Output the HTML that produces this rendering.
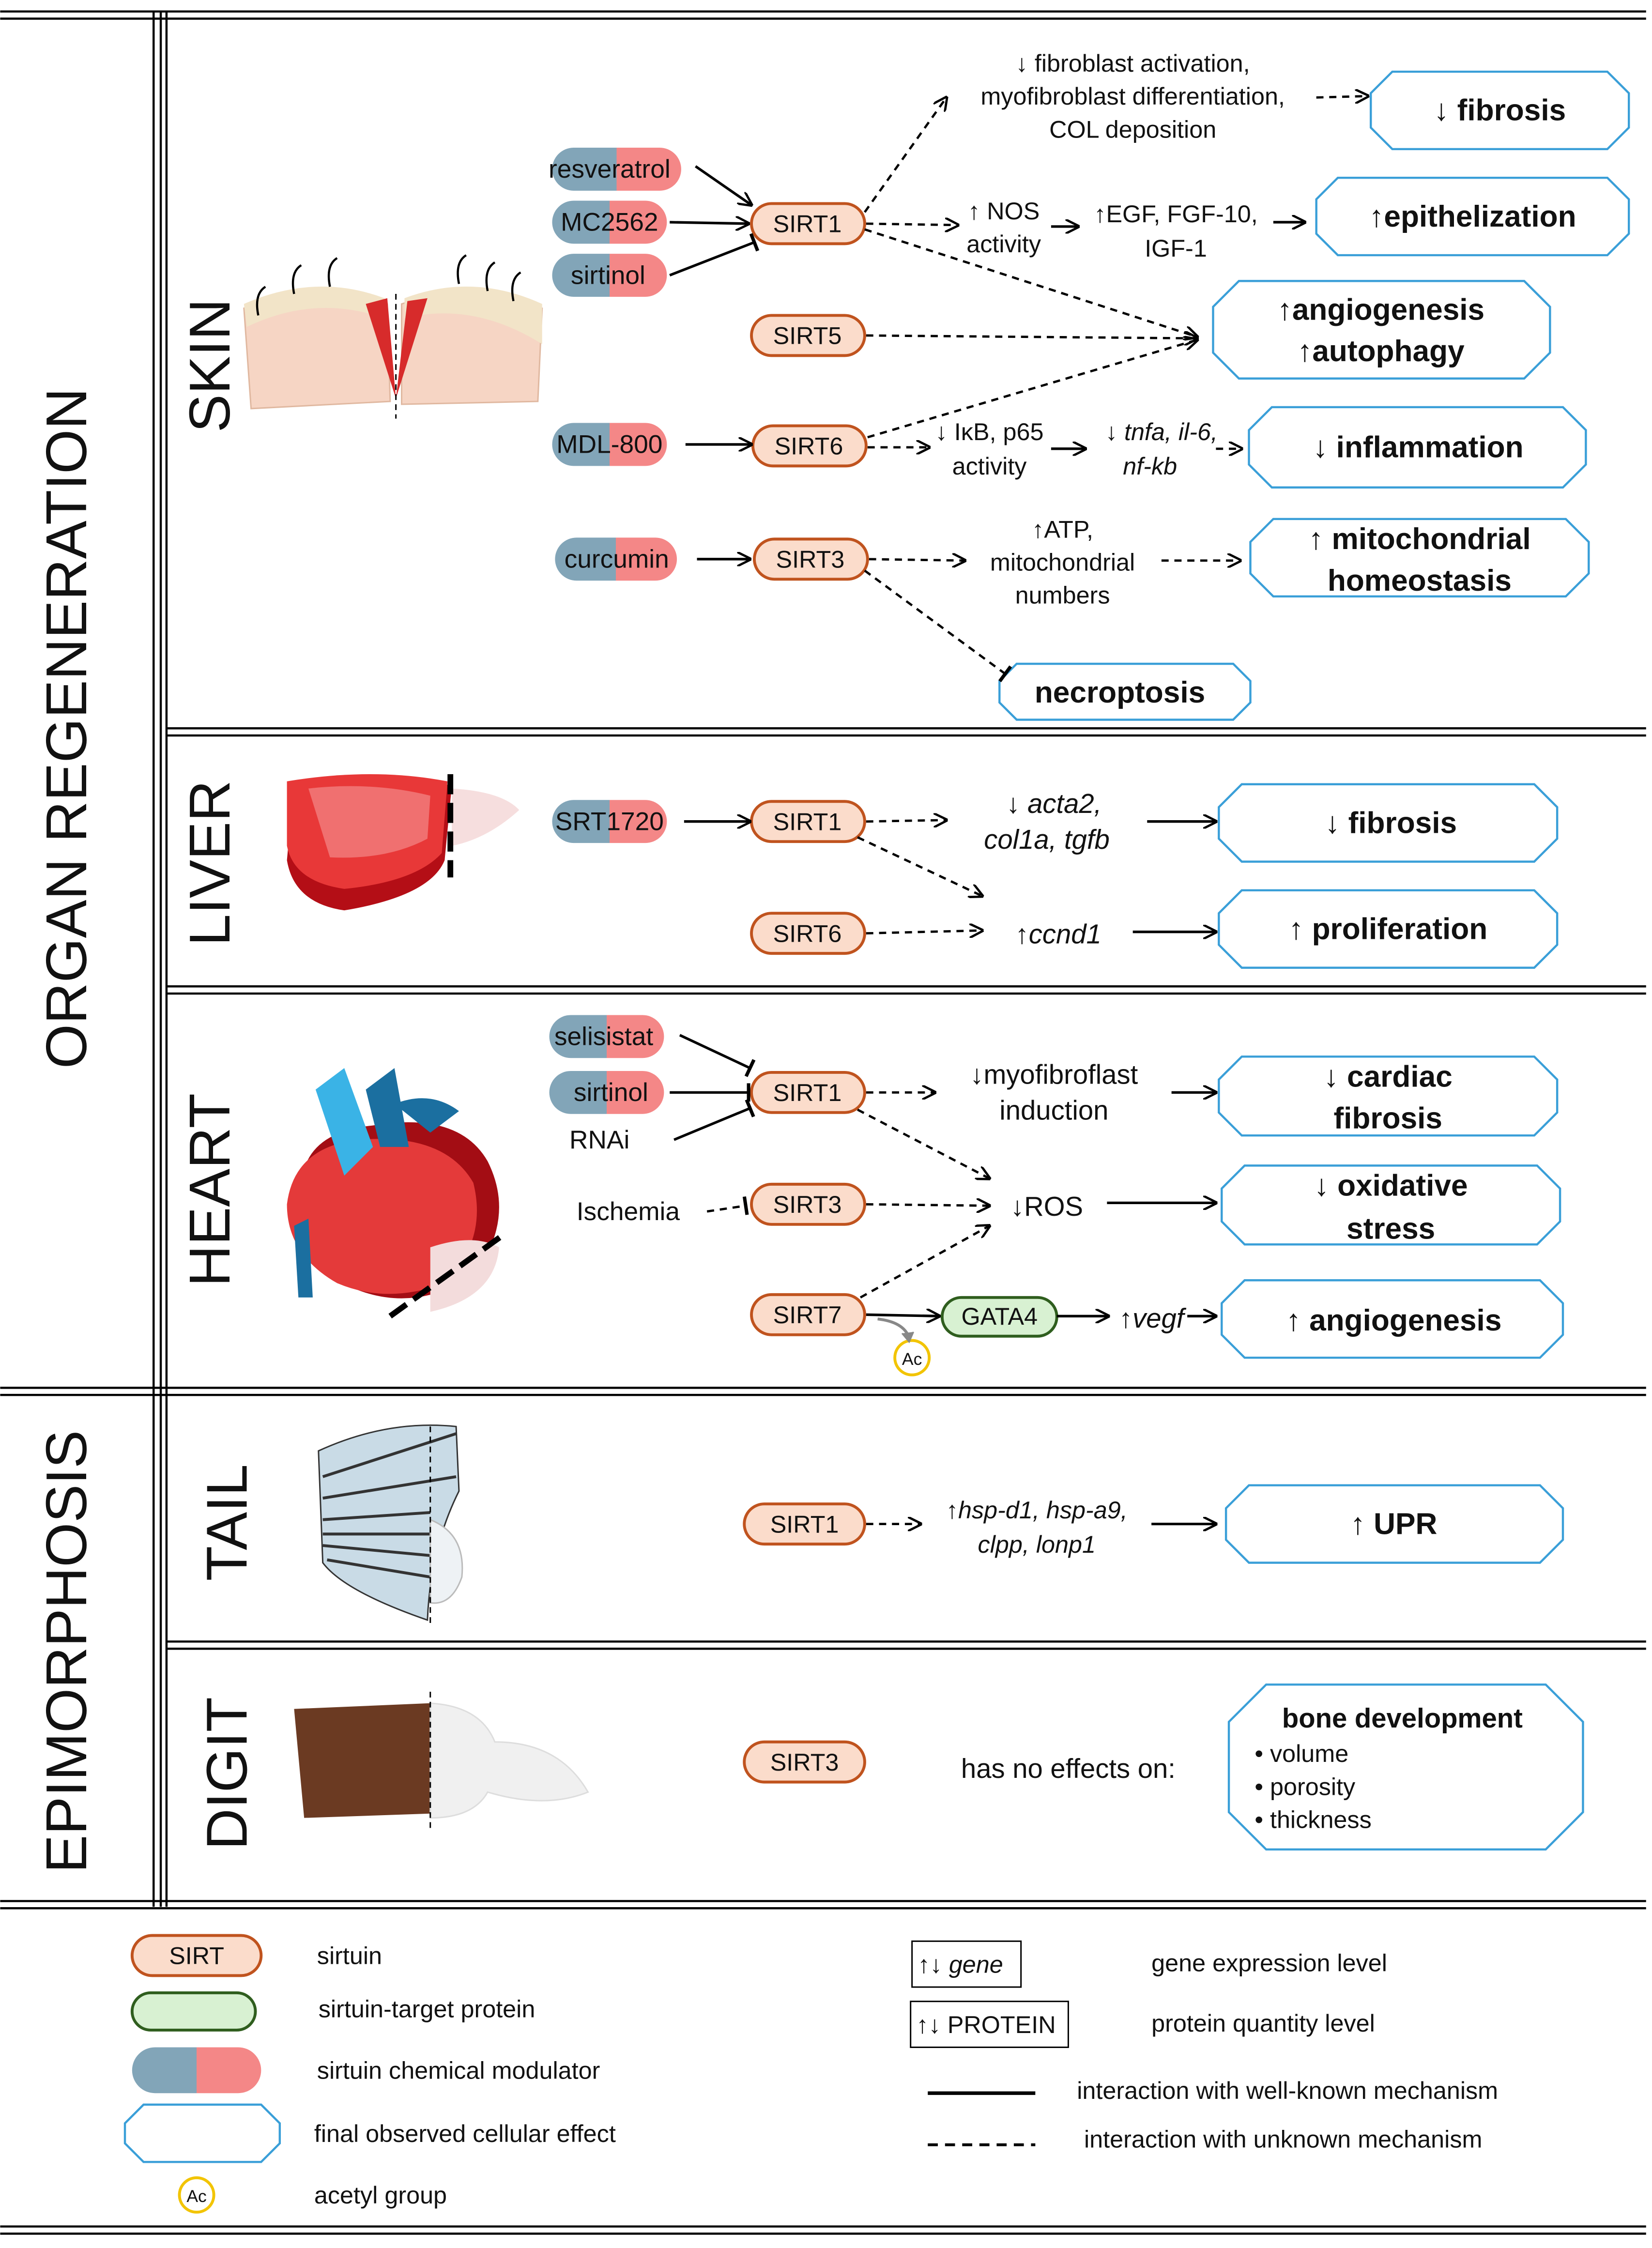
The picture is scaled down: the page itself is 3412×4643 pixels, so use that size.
<!DOCTYPE html>
<html><head><meta charset="utf-8"><style>
html,body{margin:0;padding:0;background:#fff}
svg{display:block}
text{font-family:"Liberation Sans","DejaVu Sans",sans-serif;fill:#111}
.t{font-size:17px;text-anchor:middle}
.i{font-style:italic}
.e{font-size:21px;font-weight:bold;text-anchor:middle}
.s{fill:#fbdccb;stroke:#c0531e;stroke-width:2}
.ef{fill:#fff;stroke:#3a9fd8;stroke-width:1.5}
.a{stroke:#000;stroke-width:1.8;fill:none}
.d{stroke:#000;stroke-width:1.6;fill:none;stroke-dasharray:5,4}
.lbl{font-size:40px;text-anchor:middle}
</style></head><body>
<svg width="3412" height="4643" viewBox="0 0 1152 1568" xmlns="http://www.w3.org/2000/svg">
<defs>
<marker id="ar" viewBox="0 0 10 10" refX="9" refY="5" markerWidth="10" markerHeight="10" markerUnits="userSpaceOnUse" orient="auto"><path d="M0,0 L10,5 L0,10" fill="none" stroke="#000" stroke-width="1.6"/></marker>
<marker id="tb" viewBox="0 0 10 16" refX="8" refY="8" markerWidth="8" markerHeight="16" markerUnits="userSpaceOnUse" orient="auto"><path d="M8,0 L8,16" stroke="#000" stroke-width="3"/></marker>
<linearGradient id="pg" x1="0" x2="1"><stop offset="0.5" stop-color="#82a5b8"/><stop offset="0.5" stop-color="#f48787"/></linearGradient>
</defs>
<rect width="1152" height="1568" fill="#fff"/>
<!-- frame lines -->
<g stroke="#000" stroke-width="1.5">
<line x1="0" y1="8" x2="1148" y2="8"/><line x1="0" y1="13" x2="1148" y2="13"/>
<line x1="107" y1="8" x2="107" y2="1330"/><line x1="112" y1="8" x2="112" y2="1330"/><line x1="116" y1="8" x2="116" y2="1330"/>
<line x1="116" y1="508" x2="1148" y2="508"/><line x1="116" y1="513" x2="1148" y2="513"/>
<line x1="116" y1="688" x2="1148" y2="688"/><line x1="116" y1="693" x2="1148" y2="693"/>
<line x1="0" y1="968" x2="1148" y2="968"/><line x1="0" y1="973" x2="1148" y2="973"/>
<line x1="116" y1="1145" x2="1148" y2="1145"/><line x1="116" y1="1150" x2="1148" y2="1150"/>
<line x1="0" y1="1326" x2="1148" y2="1326"/><line x1="0" y1="1331" x2="1148" y2="1331"/>
<line x1="0" y1="1553" x2="1148" y2="1553"/><line x1="0" y1="1558" x2="1148" y2="1558"/>
</g>
<text class="lbl" transform="translate(60,508) rotate(-90)">ORGAN REGENERATION</text>
<text class="lbl" transform="translate(60,1152) rotate(-90)">EPIMORPHOSIS</text>
<text class="lbl" transform="translate(160,255) rotate(-90)">SKIN</text>
<text class="lbl" transform="translate(160,602) rotate(-90)">LIVER</text>
<text class="lbl" transform="translate(160,830) rotate(-90)">HEART</text>
<text class="lbl" transform="translate(172,1062) rotate(-90)">TAIL</text>
<text class="lbl" transform="translate(172,1237) rotate(-90)">DIGIT</text>

<!-- illustrations -->
<g>
<path d="M170,215 Q220,195 270,212 L272,280 L175,285 Z" fill="#f6d5c4" stroke="#e0b8a0"/>
<path d="M280,212 Q330,195 378,215 L375,280 L280,282 Z" fill="#f6d5c4" stroke="#e0b8a0"/>
<path d="M170,212 Q220,190 268,208 L268,222 Q220,205 172,228 Z" fill="#f2e4c8"/>
<path d="M282,208 Q330,190 378,212 L378,240 Q330,210 282,222 Z" fill="#f2e4c8"/>
<path d="M255,212 L270,208 L276,278 Z" fill="#d72b2b"/><path d="M298,208 L284,210 L276,278 Z" fill="#d72b2b"/>
<line x1="276" y1="205" x2="276" y2="292" stroke="#000" stroke-dasharray="4,3"/>
<g stroke="#000" stroke-width="1.5" fill="none"><path d="M180,220 q-3,-15 5,-20"/><path d="M205,205 q-3,-15 5,-20"/><path d="M230,200 q-3,-15 5,-20"/><path d="M320,198 q-3,-15 5,-20"/><path d="M340,203 q-3,-15 5,-20"/><path d="M358,210 q-3,-15 5,-20"/></g>
</g>
<g>
<path d="M205,545 Q260,535 315,548 L310,600 Q300,625 240,635 Q205,630 200,600 Z" fill="#b40e16"/>
<path d="M200,545 Q260,535 312,545 L308,595 Q290,615 240,620 Q205,615 200,590 Z" fill="#e83838"/>
<path d="M215,550 Q260,545 300,555 L298,585 Q270,600 230,598 Z" fill="#f07070"/>
<path d="M315,550 Q350,552 362,565 Q340,585 315,590 Z" fill="#f6dede"/>
<line x1="314" y1="540" x2="314" y2="612" stroke="#000" stroke-width="4" stroke-dasharray="14,6"/>
</g>
<g>
<path d="M210,830 Q210,790 260,785 Q320,775 340,810 Q360,850 330,890 Q290,915 250,900 Q210,880 210,830 Z" fill="#a30d14"/>
<path d="M200,840 Q205,800 250,795 Q310,790 330,825 Q340,865 310,895 Q270,910 235,895 Q200,875 200,840 Z" fill="#e43a3a"/>
<path d="M300,870 Q330,860 348,870 Q345,905 300,915 Z" fill="#f3dcdc"/>
<path d="M220,760 L240,745 L260,800 L240,820 Z" fill="#3ab3e6"/>
<path d="M255,760 L275,745 L285,800 L265,800 Z" fill="#1b6fa0"/>
<path d="M275,770 Q300,760 320,775 L300,790 Z" fill="#1b6fa0"/>
<path d="M205,855 L215,850 L218,905 L208,905 Z" fill="#1b6fa0"/>
<line x1="272" y1="918" x2="350" y2="862" stroke="#000" stroke-width="4" stroke-dasharray="14,6"/>
</g>
<g>
<path d="M222,1012 Q270,990 318,995 L320,1040 Q300,1080 298,1130 Q240,1110 225,1090 Z" fill="#c9dbe6" stroke="#333"/>
<g stroke="#333" stroke-width="2"><line x1="225" y1="1030" x2="318" y2="1000"/><line x1="225" y1="1045" x2="318" y2="1030"/><line x1="225" y1="1060" x2="300" y2="1055"/><line x1="225" y1="1070" x2="300" y2="1070"/><line x1="225" y1="1078" x2="300" y2="1085"/><line x1="228" y1="1088" x2="300" y2="1100"/></g>
<path d="M300,1060 Q325,1070 322,1100 Q315,1120 300,1118 Z" fill="#eef2f5" stroke="#bbb"/>
<line x1="300" y1="995" x2="300" y2="1132" stroke="#000" stroke-dasharray="4,3"/>
</g>
<g>
<path d="M205,1192 L300,1188 L300,1265 L212,1268 Z" fill="#6b3a22"/>
<path d="M300,1188 Q335,1190 345,1215 Q390,1215 410,1250 Q380,1262 340,1250 Q330,1268 300,1268 Z" fill="#f0f0f0" stroke="#ddd"/>
<line x1="300" y1="1180" x2="300" y2="1275" stroke="#000" stroke-dasharray="4,3"/>
</g>

<!-- pills -->
<g font-size="18">
<rect x="385" y="103" width="90" height="30" rx="15" fill="url(#pg)"/><text x="425" y="124" text-anchor="middle" font-size="18">resveratrol</text>
<rect x="385" y="140" width="80" height="30" rx="15" fill="url(#pg)"/><text x="425" y="161" text-anchor="middle" font-size="18">MC2562</text>
<rect x="385" y="177" width="80" height="30" rx="15" fill="url(#pg)"/><text x="424" y="198" text-anchor="middle" font-size="18">sirtinol</text>
<rect x="385" y="295" width="80" height="30" rx="15" fill="url(#pg)"/><text x="425" y="316" text-anchor="middle" font-size="18">MDL-800</text>
<rect x="387" y="375" width="85" height="30" rx="15" fill="url(#pg)"/><text x="430" y="396" text-anchor="middle" font-size="18">curcumin</text>
<rect x="385" y="558" width="80" height="30" rx="15" fill="url(#pg)"/><text x="425" y="579" text-anchor="middle" font-size="18">SRT1720</text>
<rect x="383" y="708" width="80" height="30" rx="15" fill="url(#pg)"/><text x="421" y="729" text-anchor="middle" font-size="18">selisistat</text>
<rect x="383" y="747" width="80" height="30" rx="15" fill="url(#pg)"/><text x="426" y="768" text-anchor="middle" font-size="18">sirtinol</text>
</g>
<text x="418" y="801" class="t" style="font-size:18px">RNAi</text>
<text x="438" y="851" class="t" style="font-size:18px">Ischemia</text>

<!-- SIRT boxes -->
<g>
<rect class="s" x="524" y="142" width="79" height="28" rx="14"/><text class="t" x="563" y="162">SIRT1</text>
<rect class="s" x="524" y="220" width="79" height="28" rx="14"/><text class="t" x="563" y="240">SIRT5</text>
<rect class="s" x="525" y="297" width="79" height="28" rx="14"/><text class="t" x="564" y="317">SIRT6</text>
<rect class="s" x="526" y="376" width="79" height="28" rx="14"/><text class="t" x="565" y="396">SIRT3</text>
<rect class="s" x="524" y="559" width="79" height="28" rx="14"/><text class="t" x="563" y="579">SIRT1</text>
<rect class="s" x="524" y="637" width="79" height="28" rx="14"/><text class="t" x="563" y="657">SIRT6</text>
<rect class="s" x="524" y="748" width="79" height="28" rx="14"/><text class="t" x="563" y="768">SIRT1</text>
<rect class="s" x="524" y="826" width="79" height="28" rx="14"/><text class="t" x="563" y="846">SIRT3</text>
<rect class="s" x="524" y="903" width="79" height="28" rx="14"/><text class="t" x="563" y="923">SIRT7</text>
<rect class="s" x="519" y="1049" width="84" height="28" rx="14"/><text class="t" x="561" y="1069">SIRT1</text>
<rect class="s" x="519" y="1215" width="84" height="28" rx="14"/><text class="t" x="561" y="1235">SIRT3</text>
<rect x="657" y="905" width="80" height="27" rx="13.5" fill="#d8f1d2" stroke="#2f5e1e" stroke-width="2"/><text class="t" x="697" y="924">GATA4</text>
<circle cx="636" cy="947" r="12" fill="#fff" stroke="#f2c400" stroke-width="2"/><text x="636" y="952" text-anchor="middle" font-size="12">Ac</text>
</g>

<!-- effect boxes -->
<g>
<path class="ef" d="M971,50 H1121 L1136,65 V89 L1121,104 H971 L956,89 V65 Z"/><text class="e" x="1046" y="84">↓ fibrosis</text>
<path class="ef" d="M933,124 H1121 L1136,139 V163 L1121,178 H933 L918,163 V139 Z"/><text class="e" x="1027" y="158">↑epithelization</text>
<path class="ef" d="M864,196 H1063 L1081,214 V246 L1063,264 H864 L846,246 V214 Z"/><text class="e" x="963" y="223">↑angiogenesis</text><text class="e" x="963" y="252">↑autophagy</text>
<path class="ef" d="M887,284 H1090 L1106,300 V324 L1090,340 H887 L871,324 V300 Z"/><text class="e" x="989" y="319">↓ inflammation</text>
<path class="ef" d="M888,362 H1092 L1108,378 V400 L1092,416 H888 L872,400 V378 Z"/><text class="e" x="990" y="383">↑ mitochondrial</text><text class="e" x="990" y="412">homeostasis</text>
<path class="ef" d="M709,463 H860 L872,475 V490 L860,502 H709 L697,490 V475 Z"/><text class="e" x="781" y="490">necroptosis</text>
<path class="ef" d="M866,547 H1070 L1086,563 V585 L1070,601 H866 L850,585 V563 Z"/><text class="e" x="970" y="581">↓ fibrosis</text>
<path class="ef" d="M866,621 H1070 L1086,637 V659 L1070,675 H866 L850,659 V637 Z"/><text class="e" x="968" y="655">↑ proliferation</text>
<path class="ef" d="M866,737 H1070 L1086,753 V776 L1070,792 H866 L850,776 V753 Z"/><text class="e" x="968" y="758">↓ cardiac</text><text class="e" x="968" y="787">fibrosis</text>
<path class="ef" d="M868,813 H1072 L1088,829 V852 L1072,868 H868 L852,852 V829 Z"/><text class="e" x="970" y="834">↓ oxidative</text><text class="e" x="970" y="864">stress</text>
<path class="ef" d="M868,893 H1074 L1090,909 V931 L1074,947 H868 L852,931 V909 Z"/><text class="e" x="972" y="928">↑ angiogenesis</text>
<path class="ef" d="M871,1036 H1074 L1090,1052 V1074 L1074,1090 H871 L855,1074 V1052 Z"/><text class="e" x="972" y="1070">↑ UPR</text>
<path class="ef" d="M883,1175 H1078 L1104,1201 V1264 L1078,1290 H883 L857,1264 V1201 Z"/>
<text x="978" y="1205" text-anchor="middle" font-size="19" font-weight="bold">bone development</text>
<text x="875" y="1229" font-size="17">•  volume</text><text x="875" y="1252" font-size="17">•  porosity</text><text x="875" y="1275" font-size="17">•  thickness</text>
</g>

<!-- texts -->
<g class="t">
<text x="790" y="50">↓ fibroblast activation,</text><text x="790" y="73">myofibroblast differentiation,</text><text x="790" y="96">COL deposition</text>
<text x="700" y="153">↑ NOS</text><text x="700" y="176">activity</text>
<text x="820" y="155">↑EGF, FGF-10,</text><text x="820" y="179">IGF-1</text>
<text x="690" y="307">↓ IκB, p65</text><text x="690" y="331">activity</text>
<text x="810" y="307" class="i">↓ tnfa, il-6,</text><text x="802" y="331" class="i">nf-kb</text>
<text x="741" y="375">↑ATP,</text><text x="741" y="398">mitochondrial</text><text x="741" y="421">numbers</text>
<text x="735" y="567" class="i" style="font-size:19px">↓ acta2,</text><text x="730" y="592" class="i" style="font-size:19px">col1a, tgfb</text>
<text x="738" y="658" class="i" style="font-size:19px">↑ccnd1</text>
<text x="735" y="756" style="font-size:19px">↓myofibroflast</text><text x="735" y="781" style="font-size:19px">induction</text>
<text x="730" y="848" style="font-size:19px">↓ROS</text>
<text x="803" y="926" class="i" style="font-size:19px">↑vegf</text>
<text x="723" y="1059" class="i">↑hsp-d1, hsp-a9,</text><text x="723" y="1083" class="i">clpp, lonp1</text>
<text x="745" y="1240" style="font-size:19px">has no effects on:</text>
</g>

<!-- connectors -->
<g>
<line class="a" x1="485" y1="116" x2="524" y2="143" marker-end="url(#ar)"/>
<line class="a" x1="467" y1="155" x2="522" y2="156" marker-end="url(#ar)"/>
<line class="a" x1="467" y1="192" x2="526" y2="169" stroke-width="2.5" marker-end="url(#tb)"/>
<line class="d" x1="603" y1="148" x2="660" y2="68" marker-end="url(#ar)"/>
<line class="d" x1="918" y1="68" x2="954" y2="67" marker-end="url(#ar)"/>
<line class="d" x1="604" y1="156" x2="668" y2="157" marker-end="url(#ar)"/>
<line class="a" x1="733" y1="158" x2="752" y2="158" stroke-width="1.2" marker-end="url(#ar)"/>
<line class="a" x1="888" y1="155" x2="910" y2="155" stroke-width="1.2" marker-end="url(#ar)"/>
<line class="d" x1="603" y1="160" x2="835" y2="235" marker-end="url(#ar)"/>
<line class="d" x1="604" y1="234" x2="835" y2="236" marker-end="url(#ar)"/>
<line class="d" x1="605" y1="305" x2="835" y2="237" marker-end="url(#ar)"/>
<line class="a" x1="478" y1="310" x2="524" y2="310" marker-end="url(#ar)"/>
<line class="d" x1="605" y1="312" x2="648" y2="312" marker-end="url(#ar)"/>
<line class="a" x1="733" y1="313" x2="757" y2="313" marker-end="url(#ar)"/>
<line class="d" x1="848" y1="313" x2="866" y2="313" marker-end="url(#ar)"/>
<line class="a" x1="486" y1="390" x2="523" y2="390" marker-end="url(#ar)"/>
<line class="d" x1="606" y1="390" x2="673" y2="391" marker-end="url(#ar)"/>
<line class="d" x1="810" y1="391" x2="865" y2="391" marker-end="url(#ar)"/>
<line class="d" x1="603" y1="398" x2="701" y2="470" marker-end="url(#tb)"/>
<line class="a" x1="477" y1="573" x2="523" y2="573" marker-end="url(#ar)"/>
<line class="d" x1="604" y1="573" x2="660" y2="572" marker-end="url(#ar)"/>
<line class="a" x1="800" y1="573" x2="848" y2="573" marker-end="url(#ar)"/>
<line class="d" x1="598" y1="584" x2="685" y2="625" marker-end="url(#ar)"/>
<line class="d" x1="604" y1="651" x2="685" y2="649" marker-end="url(#ar)"/>
<line class="a" x1="790" y1="650" x2="848" y2="650" marker-end="url(#ar)"/>
<line class="a" x1="474" y1="722" x2="523" y2="745" marker-end="url(#tb)"/>
<line class="a" x1="467" y1="762" x2="522" y2="762" marker-end="url(#tb)"/>
<line class="a" x1="470" y1="795" x2="523" y2="773" marker-end="url(#tb)"/>
<line class="d" x1="604" y1="762" x2="652" y2="762" marker-end="url(#ar)"/>
<line class="a" x1="817" y1="762" x2="848" y2="762" marker-end="url(#ar)"/>
<line class="d" x1="598" y1="774" x2="690" y2="822" marker-end="url(#ar)"/>
<line class="d" x1="493" y1="845" x2="520" y2="841" marker-end="url(#tb)"/>
<line class="d" x1="604" y1="840" x2="690" y2="841" marker-end="url(#ar)"/>
<line class="a" x1="772" y1="839" x2="848" y2="839" marker-end="url(#ar)"/>
<line class="d" x1="600" y1="905" x2="690" y2="855" marker-end="url(#ar)"/>
<line class="a" x1="604" y1="917" x2="655" y2="918" marker-end="url(#ar)"/>
<line class="a" x1="737" y1="918" x2="773" y2="918" marker-end="url(#ar)"/>
<line class="a" x1="828" y1="918" x2="848" y2="918" marker-end="url(#ar)"/>
<path d="M612,920 Q630,922 634,933" fill="none" stroke="#888" stroke-width="2"/>
<path d="M629,930 L634,936 L637,929" fill="#888" stroke="#888"/>
<line class="d" x1="604" y1="1063" x2="642" y2="1063" marker-end="url(#ar)"/>
<line class="a" x1="803" y1="1063" x2="848" y2="1063" marker-end="url(#ar)"/>
</g>

<!-- legend -->
<g font-size="17">
<rect class="s" x="92" y="1350" width="90" height="28" rx="14"/><text class="t" x="137" y="1370">SIRT</text>
<text x="221" y="1370">sirtuin</text>
<rect x="92" y="1390" width="86" height="26" rx="13" fill="#d8f1d2" stroke="#2f5e1e" stroke-width="2"/>
<text x="222" y="1407">sirtuin-target protein</text>
<rect x="92" y="1428" width="90" height="32" rx="16" fill="url(#pg)"/>
<text x="221" y="1450">sirtuin chemical modulator</text>
<path class="ef" d="M100,1468 H182 L195,1481 V1495 L182,1508 H100 L87,1495 V1481 Z"/>
<text x="219" y="1494">final observed cellular effect</text>
<circle cx="137" cy="1531" r="12" fill="#fff" stroke="#f2c400" stroke-width="2"/><text x="137" y="1536" text-anchor="middle" font-size="12">Ac</text>
<text x="219" y="1537">acetyl group</text>
<rect x="636" y="1354" width="76" height="32" fill="#fff" stroke="#000"/><text x="640" y="1376">↑↓ <tspan font-style="italic">gene</tspan></text>
<text x="803" y="1375">gene expression level</text>
<rect x="635" y="1396" width="110" height="32" fill="#fff" stroke="#000"/><text x="639" y="1418">↑↓ PROTEIN</text>
<text x="803" y="1417">protein quantity level</text>
<line x1="647" y1="1460" x2="722" y2="1460" stroke="#000" stroke-width="2.5"/>
<text x="751" y="1464">interaction with well-known mechanism</text>
<line x1="647" y1="1496" x2="722" y2="1496" stroke="#000" stroke-width="2" stroke-dasharray="7,5"/>
<text x="756" y="1498">interaction with unknown mechanism</text>
</g>
</svg>
</body></html>
